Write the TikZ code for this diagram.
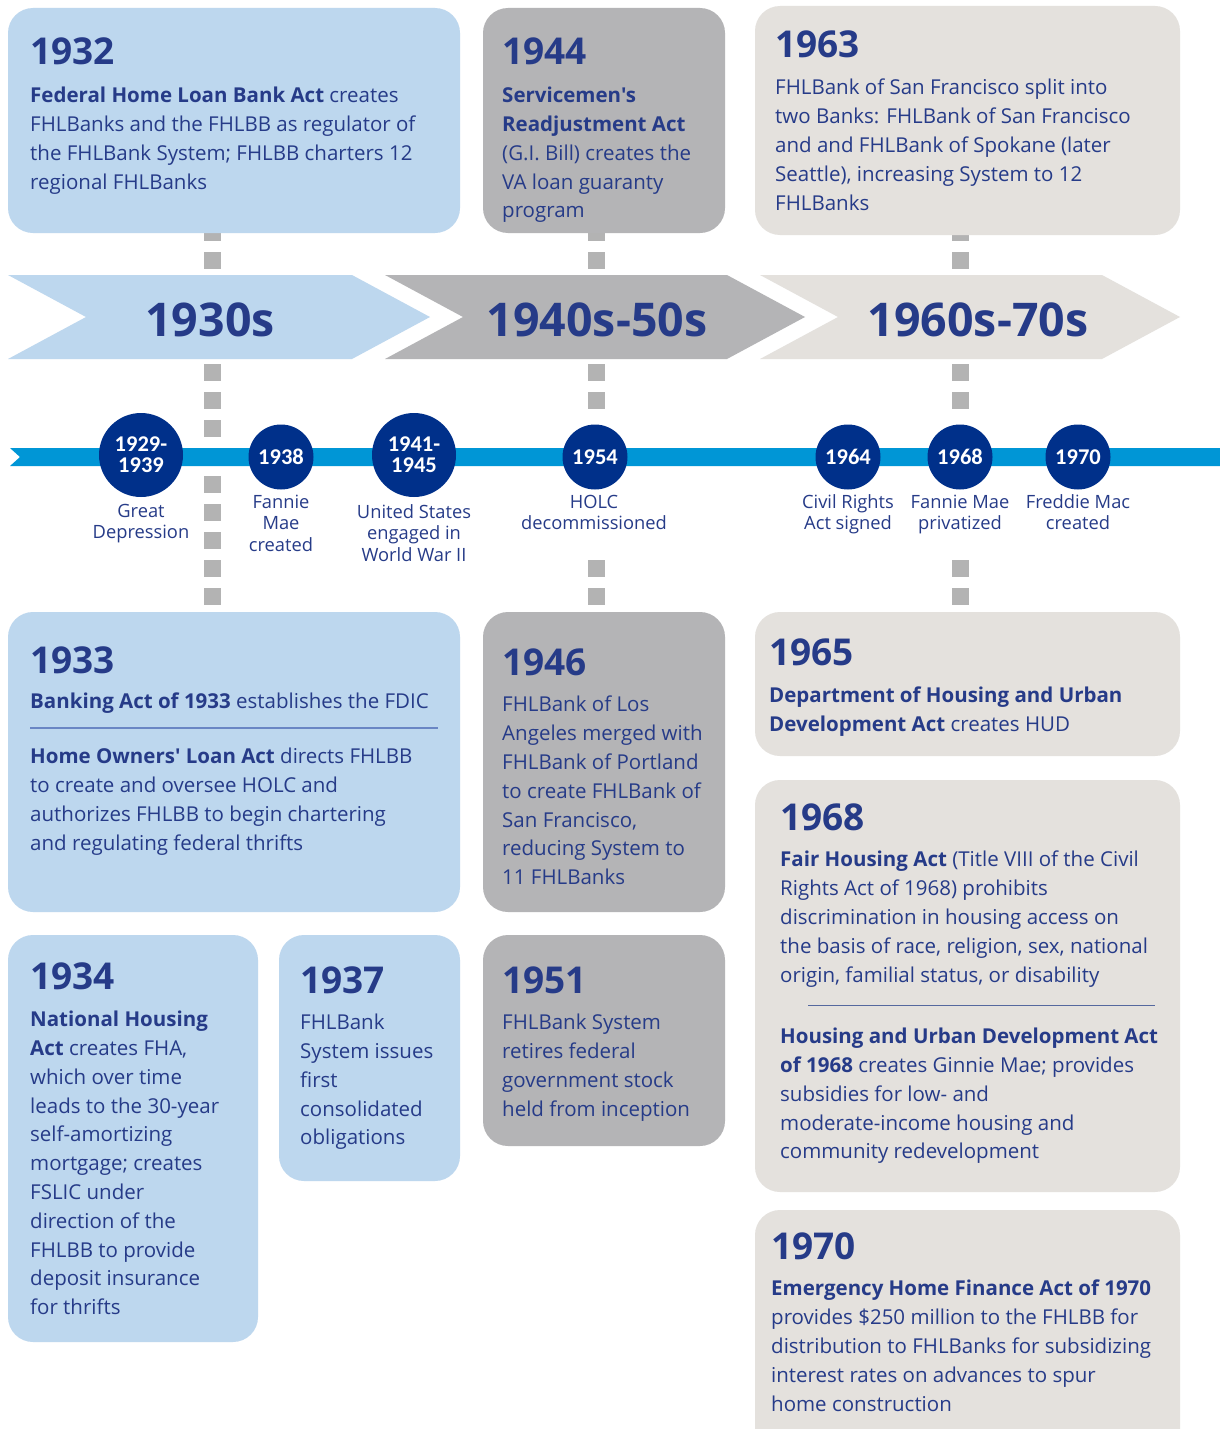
\documentclass[tikz,border=0pt]{standalone}
\usepackage{fontspec}
\setmainfont{Open Sans}[Ligatures=TeXOff]
\newfontfamily\circfont{Carlito}
\definecolor{lblue}{HTML}{BDD7EE}
\definecolor{mgray}{HTML}{B4B4B6}
\definecolor{beige}{HTML}{E4E1DD}
\definecolor{dashgray}{HTML}{B3B3B3}
\definecolor{navy}{HTML}{00308A}
\definecolor{navytext}{HTML}{263B88}
\definecolor{barblue}{HTML}{0096D6}
\definecolor{rulecol}{HTML}{6A86C4}
\definecolor{rulecolb}{HTML}{55689E}
\newcommand\topstrut{\rule{0pt}{15pt}}
\begin{document}
\begin{tikzpicture}[x=1pt,y=-1pt,
  card/.style={rounded corners=25pt},
  txt/.style={anchor=north west, inner sep=0pt, align=left, text=navytext, font=\fontsize{20.5}{28.8}\selectfont},
  hdr/.style={anchor=base west, inner sep=0pt, text=navytext, font=\fontsize{37}{40}\selectfont\bfseries},
  era/.style={inner sep=0pt, text=navytext, font=\fontsize{46.5}{48}\selectfont\bfseries},
  dec/.style={circle, fill=navy, text=white, inner sep=0pt, align=center, font=\circfont\bfseries\fontsize{22.5}{21}\selectfont},
  lbl/.style={anchor=north, align=center, inner sep=0pt, text=navytext, font=\fontsize{18.3}{21.7}\selectfont},
  dashline/.style={draw=dashgray, line width=17pt, dash pattern=on 17pt off 11pt}]
\clip (0,0) rectangle (1220,1429);
\fill[white] (0,0) rectangle (1220,1429);

% dashed connectors
\coordinate (d1a) at (212,196); \coordinate (d1b) at (212,605);
\coordinate (d2a) at (596,196); \coordinate (d2b) at (596,409);
\coordinate (d2c) at (596,560); \coordinate (d2d) at (596,605);
\coordinate (d3a) at (960,196); \coordinate (d3b) at (960,409);
\coordinate (d3c) at (960,560); \coordinate (d3d) at (960,605);
\draw[dashline] (d1a) -- (d1b);
\draw[dashline] (d2a) -- (d2b);
\draw[dashline] (d2c) -- (d2d);
\draw[dashline] (d3a) -- (d3b);
\draw[dashline] (d3c) -- (d3d);

% top cards
\fill[lblue,card] (8,8) rectangle (460,233);
\fill[mgray,card] (483,8) rectangle (725,233);
\fill[beige,card] (755,6) rectangle (1180,235);

% chevrons
\fill[lblue] (8,275) -- (352,275) -- (430,317) -- (352,359) -- (8,359) -- (86,317) -- cycle;
\fill[mgray] (385,275) -- (727,275) -- (805,317) -- (727,359) -- (385,359) -- (463,317) -- cycle;
\fill[beige] (760,275) -- (1102,275) -- (1180,317) -- (1102,359) -- (760,359) -- (838,317) -- cycle;
\node[era] (e1) at (210,320) {1930s};
\node[era] (e2) at (597,320) {1940s-50s};
\node[era] (e3) at (978,320) {1960s-70s};

% bottom cards
\fill[lblue,card] (8,612) rectangle (460,912);
\fill[mgray,card] (483,612) rectangle (725,912);
\fill[beige,card] (755,612) rectangle (1180,756);
\fill[lblue,card] (8,935) rectangle (258,1342);
\fill[lblue,card] (279,935) rectangle (460,1181);
\fill[mgray,card] (483,935) rectangle (725,1146);
\fill[beige,card] (755,780) rectangle (1180,1192);
\fill[beige,card] (755,1210) rectangle (1180,1460);

% timeline bar
\fill[barblue] (10,448) -- (1220,448) -- (1220,466) -- (10,466) -- (20,457) -- cycle;

% circles
\node[dec, minimum size=84pt] (c1) at (141,455) {1929-\\1939};
\node[dec, minimum size=65pt] (c2) at (281,457) {1938};
\node[dec, minimum size=84pt] (c3) at (414,455) {1941-\\1945};
\node[dec, minimum size=65pt] (c4) at (595,457) {1954};
\node[dec, minimum size=65pt] (c5) at (848,457) {1964};
\node[dec, minimum size=65pt] (c6) at (960,457) {1968};
\node[dec, minimum size=65pt] (c7) at (1078,457) {1970};

\node[lbl] (l1) at (141,503) {\rule{0pt}{14pt}Great\\Depression};
\node[lbl] (l2) at (281,494) {\rule{0pt}{14pt}Fannie\\Mae\\created};
\node[lbl] (l3) at (414,504) {\rule{0pt}{14pt}United States\\engaged in\\World War II};
\node[lbl] (l4) at (594,494) {\rule{0pt}{14pt}HOLC\\decommissioned};
\node[lbl] (l5) at (848,494) {\rule{0pt}{14pt}Civil Rights\\Act signed};
\node[lbl] (l6) at (960,494) {\rule{0pt}{14pt}Fannie Mae\\privatized};
\node[lbl] (l7) at (1078,494) {\rule{0pt}{14pt}Freddie Mac\\created};

% 1932
\node[hdr] (h1932) at (30,65) {1932};
\node[txt] (t1932) at (30,87) {\topstrut\textbf{Federal Home Loan Bank Act} creates\\FHLBanks and the FHLBB as regulator of\\the FHLBank System; FHLBB charters 12\\regional FHLBanks};
% 1944
\node[hdr] (h1944) at (502,65) {1944};
\node[txt] (t1944) at (502,87) {\topstrut\textbf{Servicemen's}\\\textbf{Readjustment Act}\\(G.I. Bill) creates the\\VA loan guaranty\\program};
% 1963
\node[hdr] (h1963) at (775,57) {1963};
\node[txt] (t1963) at (775,79) {\topstrut FHLBank of San Francisco split into\\two Banks: FHLBank of San Francisco\\and and FHLBank of Spokane (later\\Seattle), increasing System to 12\\FHLBanks};
% 1933
\node[hdr] (h1933) at (30,673) {1933};
\node[txt] (t1933a) at (30,693) {\topstrut\textbf{Banking Act of 1933} establishes the FDIC};
\draw[rulecol, line width=1.2pt] (30,728) -- (438,728);
\node[txt] (t1933b) at (30,748) {\topstrut\textbf{Home Owners' Loan Act} directs FHLBB\\to create and oversee HOLC and\\authorizes FHLBB to begin chartering\\and regulating federal thrifts};
% 1946
\node[hdr] (h1946) at (502,675) {1946};
\node[txt] (t1946) at (502,696) {\topstrut FHLBank of Los\\Angeles merged with\\FHLBank of Portland\\to create FHLBank of\\San Francisco,\\reducing System to\\11 FHLBanks};
% 1965
\node[hdr] (h1965) at (769,665) {1965};
\node[txt] (t1965) at (769,687) {\topstrut\textbf{Department of Housing and Urban}\\\textbf{Development Act} creates HUD};
% 1934
\node[hdr] (h1934) at (30,989) {1934};
\node[txt] (t1934) at (30,1011) {\topstrut\textbf{National Housing}\\\textbf{Act} creates FHA,\\which over time\\leads to the 30-year\\self-amortizing\\mortgage; creates\\FSLIC under\\direction of the\\FHLBB to provide\\deposit insurance\\for thrifts};
% 1937
\node[hdr] (h1937) at (300,993) {1937};
\node[txt] (t1937) at (300,1014) {\topstrut FHLBank\\System issues\\first\\consolidated\\obligations};
% 1951
\node[hdr] (h1951) at (502,993) {1951};
\node[txt] (t1951) at (502,1014) {\topstrut FHLBank System\\retires federal\\government stock\\held from inception};
% 1968
\node[hdr] (h1968) at (780,830) {1968};
\node[txt] (t1968a) at (780,851) {\topstrut\textbf{Fair Housing Act} (Title VIII of the Civil\\Rights Act of 1968) prohibits\\discrimination in housing access on\\the basis of race, religion, sex, national\\origin, familial status, or disability};
\draw[rulecolb, line width=1pt] (808,1005) -- (1155,1005);
\node[txt] (t1968b) at (780,1028) {\topstrut\textbf{Housing and Urban Development Act}\\\textbf{of 1968} creates Ginnie Mae; provides\\subsidies for low- and\\moderate-income housing and\\community redevelopment};
% 1970
\node[hdr] (h1970) at (771,1259) {1970};
\node[txt] (t1970) at (771,1280) {\topstrut\textbf{Emergency Home Finance Act of 1970}\\provides \$250 million to the FHLBB for\\distribution to FHLBanks for subsidizing\\interest rates on advances to spur\\home construction};
\end{tikzpicture}
\end{document}
